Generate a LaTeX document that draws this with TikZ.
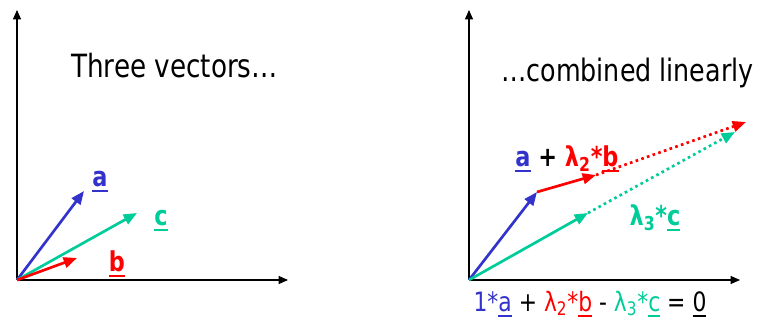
\documentclass[tikz,border=0pt]{standalone}
\usepackage{fontspec}
\setmainfont{DejaVu Sans}[FakeStretch=0.82]
\usetikzlibrary{arrows.meta}
\definecolor{vecBlue}{RGB}{51,51,204}
\definecolor{vecRed}{RGB}{255,0,0}
\definecolor{vecTeal}{RGB}{0,204,153}
\tikzset{
  axis/.style={line width=0.8pt, draw=black, -{Triangle[length=7pt, width=6pt]}},
  vector/.style={line width=2pt, -{Triangle[length=10pt, width=8pt]}},
  dotvector/.style={vector, dash pattern=on 2pt off 2.5pt},
  title/.style={font=\fontsize{24}{28}\selectfont, inner sep=0pt},
  veclabel/.style={font=\fontsize{20.5}{24}\selectfont\bfseries, inner sep=0pt},
  sumlabel/.style={font=\fontsize{20}{24}\selectfont, inner sep=0pt}
}
\newcommand{\vecul}[1]{\begingroup\setbox0=\hbox{#1}\rlap{\rule[-0.2em]{\wd0}{0.085em}}\box0\endgroup}

\begin{document}
\begin{tikzpicture}[x=0.75pt, y=-0.75pt]
\useasboundingbox (0,0) rectangle (757,320);
% left: three vectors
\coordinate (O1) at (17,280);
\coordinate (Y1) at (17,10);
\coordinate (X1) at (288,280);
\coordinate (A1) at (84,191);
\coordinate (B1) at (77,258);
\coordinate (C1) at (137,213);
\draw[axis] (O1) -- (Y1);
\draw[axis] (O1) -- (X1);
\draw[vector, vecBlue] (O1) -- (A1);
\draw[vector, vecTeal] (O1) -- (C1);
\draw[vector, vecRed] (O1) -- (B1);
\node[title, anchor=base west] (threetitle) at (71,78) {Three vectors…};
\node[veclabel, vecBlue] (alabel) at (100,182) {\vecul{a}};
\node[veclabel, vecTeal] (clabel) at (161,221) {\vecul{c}};
\node[veclabel, vecRed] (blabel) at (117,264) {\vecul{b}};
% right: combined linearly
\coordinate (O2) at (469,280);
\coordinate (Y2) at (469,10);
\coordinate (X2) at (740,280);
\coordinate (A2) at (537,192);
\coordinate (AB2) at (596,175);
\coordinate (AB2end) at (746,122);
\coordinate (C2) at (588,213);
\coordinate (C2end) at (735,132);
\draw[axis] (O2) -- (Y2);
\draw[axis] (O2) -- (X2);
\draw[dotvector, vecRed] (AB2) -- (AB2end);
\draw[dotvector, vecTeal] (C2) -- (C2end);
\draw[vector, vecBlue] (O2) -- (A2);
\draw[vector, vecRed] (A2) -- (AB2);
\draw[vector, vecTeal] (O2) -- (C2);
\node[title, font=\fontsize{23.2}{28}\selectfont, anchor=base west] (combtitle) at (501,82) {…combined linearly};
\node[veclabel] (ablabel) at (567,159)
  {\textcolor{vecBlue}{\vecul{a}} + \textcolor{vecRed}{λ\textsubscript{2}*\vecul{b}}};
\node[veclabel, vecTeal] (lclabel) at (655,218) {λ\textsubscript{3}*\vecul{c}};
\node[sumlabel] (sumlabel) at (590,304)
  {\textcolor{vecBlue}{1*\vecul{a}} + \textcolor{vecRed}{λ\textsubscript{2}*\vecul{b}}
   - \textcolor{vecTeal}{λ\textsubscript{3}*\vecul{c}} = \vecul{0}};
\end{tikzpicture}
\end{document}
